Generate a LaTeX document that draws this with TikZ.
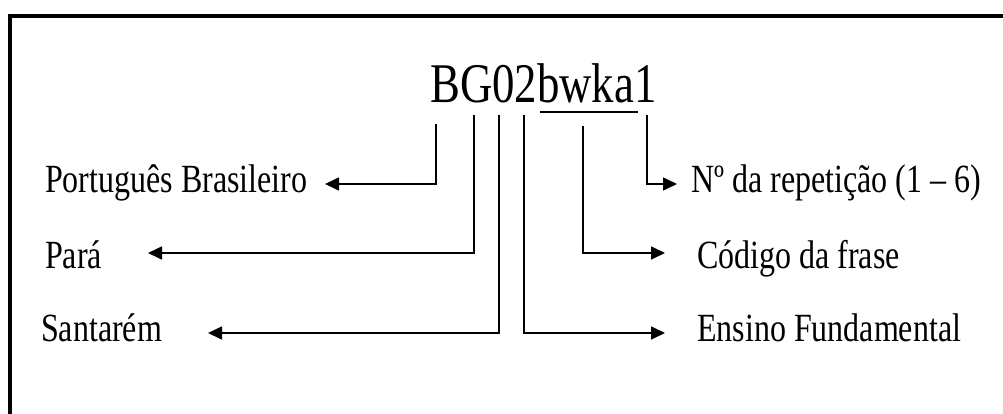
\documentclass[tikz,border=0pt]{standalone}
\usepackage{fontspec}
\setmainfont{Liberation Serif}[FakeStretch=0.8]
\usetikzlibrary{arrows.meta}
\begin{document}
\begin{tikzpicture}[x=1pt,y=-1pt,
  lab/.style={anchor=base west,inner sep=0pt,font=\fontsize{40}{46}\selectfont},
  code/.style={anchor=base west,inner sep=0pt,font=\fontsize{56}{62}\selectfont},
  conn/.style={line width=1.6pt,-{Triangle[length=14pt,width=13pt]}},
  frameline/.style={line width=4pt}]
\useasboundingbox (0,0) rectangle (1003,414);
% frame
\draw[frameline] (10,414) -- (10,16) -- (1003,16);
% code
\node[code] (code) at (430,103) {BG02bwka1};
\draw[line width=1.8pt] (540,112) coordinate (ul1) -- (638,112) coordinate (ul2);
% labels
\node[lab] (pb) at (45,193) {Português Brasileiro};
\node[lab] (pa) at (45,268) {Pará};
\node[lab] (sa) at (41,341) {Santarém};
\node[lab] (nr) at (691,193) {Nº da repetição (1 – 6)};
\node[lab] (cf) at (697,268) {Código da frase};
\node[lab] (ef) at (697,341) {Ensino Fundamental};
% line tops
\coordinate (s1) at (436,124);
\coordinate (s2) at (474,115);
\coordinate (s3) at (499,115);
\coordinate (s4) at (524,115);
\coordinate (s5) at (583,126);
\coordinate (s6) at (647,115);
% arrow tips
\coordinate (e1) at (325,184);
\coordinate (e2) at (148,253);
\coordinate (e3) at (208,333);
\coordinate (e4) at (665,333);
\coordinate (e5) at (665,253);
\coordinate (e6) at (677,184);
\draw[conn] (s1) |- (e1);
\draw[conn] (s2) |- (e2);
\draw[conn] (s3) |- (e3);
\draw[conn] (s4) |- (e4);
\draw[conn] (s5) |- (e5);
\draw[conn] (s6) |- (e6);
\end{tikzpicture}
\end{document}
